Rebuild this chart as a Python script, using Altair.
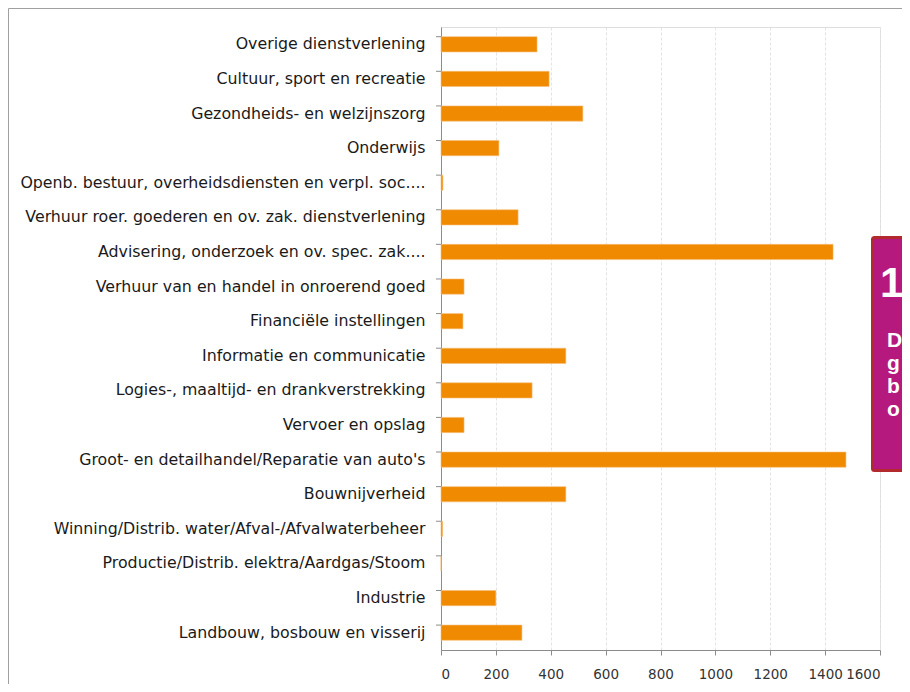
import altair as alt
import pandas as pd

categories = [
    "Overige dienstverlening",
    "Cultuur, sport en recreatie",
    "Gezondheids- en welzijnszorg",
    "Onderwijs",
    "Openb. bestuur, overheidsdiensten en verpl. soc....",
    "Verhuur roer. goederen en ov. zak. dienstverlening",
    "Advisering, onderzoek en ov. spec. zak....",
    "Verhuur van en handel in onroerend goed",
    "Financiële instellingen",
    "Informatie en communicatie",
    "Logies-, maaltijd- en drankverstrekking",
    "Vervoer en opslag",
    "Groot- en detailhandel/Reparatie van auto's",
    "Bouwnijverheid",
    "Winning/Distrib. water/Afval-/Afvalwaterbeheer",
    "Productie/Distrib. elektra/Aardgas/Stoom",
    "Industrie",
    "Landbouw, bosbouw en visserij",
]
values = [350, 394, 517, 211, 7, 281, 1429, 84, 80, 455, 332, 84, 1476, 455, 6, 0, 200, 295]
x_ticks = [0, 200, 400, 600, 800, 1000, 1200, 1400, 1600]
box_lines = ["D", "g", "b", "o"]

df = pd.DataFrame({"cat": categories, "val": values})

W, H = 439, 623
FONT = "DejaVu Sans"

y_enc = alt.Y("cat:N", sort=categories,
              scale=alt.Scale(paddingInner=0.56, paddingOuter=0.28),
              axis=alt.Axis(title=None, ticks=False, domain=True, domainColor="#8c8c8c",
                            labelFont=FONT, labelFontSize=15.8, labelColor="#1a1a1a",
                            labelPadding=16, labelLimit=500))

bars = alt.Chart(df).mark_bar(color="#F08A00", stroke="#F7C07A", strokeWidth=0.6).encode(
    x=alt.X("val:Q", scale=alt.Scale(domain=[0, 1600], nice=False),
            axis=alt.Axis(title=None, values=x_ticks, format="d", grid=True, gridDash=[3, 2],
                          gridColor="#e3e3e3", domainColor="#8c8c8c", tickColor="#8c8c8c",
                          tickSize=5, labelFont=FONT, labelFontSize=13.5, labelColor="#333333",
                          labelPadding=12)),
    y=y_enc,
)

ticks = alt.Chart(df).mark_rule(color="#8c8c8c").encode(
    x=alt.value(-5), x2=alt.value(0),
    y=alt.Y("cat:N", sort=categories, bandPosition=0),
)

frame_top = alt.Chart(df.head(1)).mark_rule(color="#a0a0a0", strokeWidth=1).encode(
    x=alt.value(-432.5), x2=alt.value(W + 40), y=alt.value(-18.5))
frame_left = alt.Chart(df.head(1)).mark_rule(color="#a0a0a0", strokeWidth=1).encode(
    x=alt.value(-432.5), y=alt.value(-18.5), y2=alt.value(H + 60))

box = alt.Chart(df.head(1)).mark_rect(fill="#B5197D", stroke="#B22A2E", strokeWidth=3,
                                      cornerRadius=2).encode(
    x=alt.value(431.5), x2=alt.value(W + 60), y=alt.value(210.5), y2=alt.value(443.5))

one = alt.Chart(df.head(1)).mark_text(text="1", color="white", font="Liberation Sans", fontSize=42,
                                      fontWeight="bold", align="left", baseline="alphabetic").encode(
    x=alt.value(439), y=alt.value(270))

lines_df = pd.DataFrame({"t": box_lines, "i": list(range(len(box_lines)))})
letters = alt.Chart(lines_df).transform_calculate(py="320 + datum.i * 23").mark_text(
    color="white", font="Liberation Sans", fontSize=21, fontWeight="bold", align="left",
    baseline="alphabetic").encode(
    text="t:N", x=alt.value(446), y=alt.Y("py:Q", scale=None))

chart = alt.layer(bars, ticks, frame_top, frame_left, box, one, letters).properties(
    width=W, height=H,
    autosize=alt.AutoSizeParams(type="none"),
    padding={"left": 433, "top": 19, "right": 22, "bottom": 34},
).configure_view(stroke=None).configure(background="white")

chart.save("out.html", embed_options={"renderer": "svg", "actions": False})
